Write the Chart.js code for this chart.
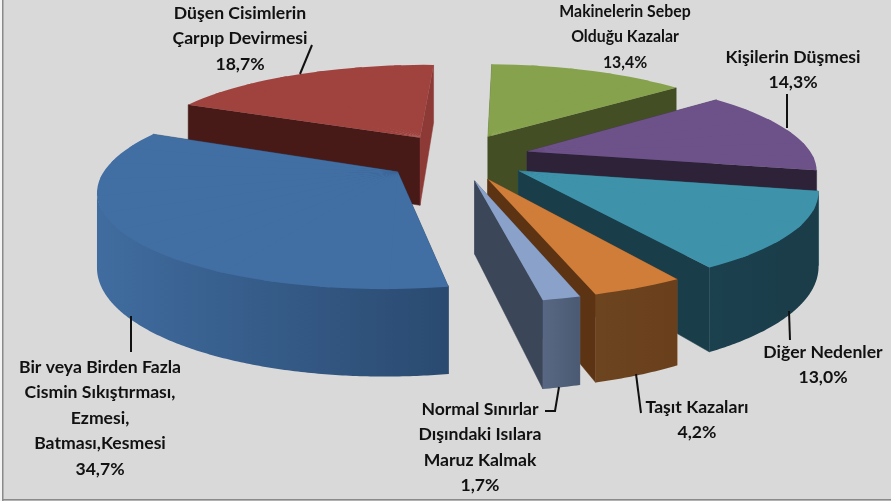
<!DOCTYPE html>
<html><head><meta charset="utf-8">
<style>html,body{margin:0;padding:0;background:#fff}canvas{display:block}</style>
<script src="https://cdn.jsdelivr.net/npm/chart.js@4"></script>
</head><body><canvas id="c" width="891" height="501"></canvas>
<script>
const categories = ["Makinelerin Sebep Olduğu Kazalar","Kişilerin Düşmesi","Diğer Nedenler","Taşıt Kazaları","Normal Sınırlar Dışındaki Isılara Maruz Kalmak","Bir veya Birden Fazla Cismin Sıkıştırması, Ezmesi, Batması,Kesmesi","Düşen Cisimlerin Çarpıp Devirmesi"];
const values = [13.4,14.3,13.0,4.2,1.7,34.7,18.7];
const labelLines = [["Makinelerin Sebep","Olduğu Kazalar"],["Kişilerin Düşmesi"],["Diğer Nedenler"],["Taşıt Kazaları"],["Normal Sınırlar","Dışındaki Isılara","Maruz Kalmak"],["Bir veya Birden Fazla","Cismin Sıkıştırması,","Ezmesi,","Batması,Kesmesi"],["Düşen Cisimlerin","Çarpıp Devirmesi"]];
const topColors = ["#86a24c","#6d5289","#3e93ab","#cf7d39","#8aa1c9","#416ea3","#a0433f"];
const wallStart = ["#5f7336","#4d3a61","#2c6879","#925828","#62728f","#2e4e74","#471a18"];
const wallEnd = ["#434e25","#2d2238","#1a3d4a","#5c3414","#3b4658","#2e4e74","#8d3a36"];
const rimLeft = ["#4c5c2b","#3e2f4e","#1b404e","#6d4420","#586884","#406c9f","#5a2624"];
const rimRight = ["#4c5c2b","#3e2f4e","#1b3c49","#6a401c","#4b5a72","#2a4a70","#5a2624"];
const labelCenter = [[625,11],[793,57],[823,352],[697,407],[480,409],[100,367],[240,13]];
const labelSqueeze = [.9,1,1,1,1,1,1];
const leaders = [[],[[787,94],[787,128]],[[789,311],[790,340]],[[636,374],[641,413]],[[559,387],[555,411],[545,411]],[[131,316],[131,352]],[[312,45],[300,74]]];

// camera model of the 3D pie
const CX=457, CY=157, R=286, TILT=.32, PERSP=.000602, EXPLODE=73, DEPTH=70;
const scaleAt = Y => 1/(1-PERSP*Y);
const proj = (X,Y) => { const s=scaleAt(Y); return {x:CX+X*s, y:CY+TILT*Y*s, d:DEPTH*s}; };

const pie3d = {
  id:'pie3d',
  beforeDraw(chart){
    const g=chart.ctx;
    g.save();
    g.fillStyle='#d9d9d9'; g.fillRect(0,0,891,501);
    g.fillStyle='#f4f4f4'; g.fillRect(0,0,2,501);
    g.fillStyle='#8a8a8a'; g.fillRect(2,0,1.5,501); g.fillRect(2,499,889,1.5);
    g.restore();
  },
  beforeDatasetsDraw(chart){
    const g=chart.ctx, arcs=chart.getDatasetMeta(0).data;
    const items=arcs.map((arc,i)=>{
      const a=arc.startAngle+Math.PI/2, b=arc.endAngle+Math.PI/2, m=(a+b)/2;
      const ax=EXPLODE*Math.sin(m), ay=-EXPLODE*Math.cos(m);
      const pt=t=>proj(ax+R*Math.sin(t), ay-R*Math.cos(t));
      return {arc,i,a,b,m,apex:proj(ax,ay),pt};
    }).sort((p,q)=>(-Math.cos(p.m))-(-Math.cos(q.m)));
    for(const it of items){
      const {arc,i,a,b,apex,pt}=it, A=pt(a), B=pt(b);
      const wall=(P,col)=>{
        g.fillStyle=col; g.strokeStyle=col; g.lineWidth=.5; g.beginPath();
        g.moveTo(apex.x,apex.y); g.lineTo(P.x,P.y); g.lineTo(P.x,P.y+P.d); g.lineTo(apex.x,apex.y+apex.d);
        g.closePath(); g.fill(); g.stroke();
      };
      wall(A,wallStart[i]); wall(B,wallEnd[i]);
      // outer rim: only the part that faces the viewer
      const n=Math.ceil((b-a)/.01), run=[];
      for(let k=0;k<=n;k++){
        const t=a+(b-a)*k/n, p=pt(t), nx=pt(t+.001);
        if(nx.x<p.x) run.push(p);
      }
      if(run.length>1){
        const xs=run.map(p=>p.x), x0=Math.min(...xs), x1=Math.max(...xs);
        const gr=g.createLinearGradient(x0,0,x1,0);
        gr.addColorStop(0,rimLeft[i]); gr.addColorStop(1,rimRight[i]);
        g.fillStyle=gr; g.beginPath();
        run.forEach((p,k)=>k?g.lineTo(p.x,p.y-1.5):g.moveTo(p.x,p.y-1.5));
        run.slice().reverse().forEach(p=>g.lineTo(p.x,p.y+p.d));
        g.closePath(); g.fill();
      }
      // top face: the library's own arc element, cut in narrow sectors, each mapped by an affine fit of the camera
      const parts=Math.ceil((b-a)/(Math.PI/18));
      for(let k=0;k<parts;k++){
        const a1=a+(b-a)*k/parts;
        const b1=k===parts-1? b : a+(b-a)*(k+1)/parts+.03;
        const P=pt(a1), Q=pt(b1), r=arc.outerRadius;
        const ux=r*Math.sin(a1), uy=-r*Math.cos(a1), vx=r*Math.sin(b1), vy=-r*Math.cos(b1);
        const det=ux*vy-vx*uy;
        const p1x=P.x-apex.x,p1y=P.y-apex.y,p2x=Q.x-apex.x,p2y=Q.y-apex.y;
        const m11=(p1x*vy-p2x*uy)/det, m12=(p2x*ux-p1x*vx)/det;
        const m21=(p1y*vy-p2y*uy)/det, m22=(p2y*ux-p1y*vx)/det;
        const piece=Object.create(arc);
        piece.startAngle=a1-Math.PI/2; piece.endAngle=b1-Math.PI/2; piece.circumference=b1-a1;
        piece.options={backgroundColor:topColors[i],borderColor:topColors[i],borderWidth:0,borderAlign:'center',
          borderDash:[],borderDashOffset:0,borderJoinStyle:'round',borderRadius:0,offset:0,spacing:0,angle:undefined,circular:true};
        g.save();
        g.transform(m11,m21,m12,m22,apex.x-m11*arc.x-m12*arc.y,apex.y-m21*arc.x-m22*arc.y);
        piece.draw(g);
        g.restore();
      }
    }
    return false;
  },
  afterDraw(chart){
    const g=chart.ctx;
    g.save();
    g.strokeStyle='#111'; g.lineWidth=2;
    leaders.forEach(l=>{ if(l.length){ g.beginPath(); l.forEach((p,k)=>k?g.lineTo(p[0],p[1]):g.moveTo(p[0],p[1])); g.stroke(); }});
    g.fillStyle='#111'; g.textAlign='center'; g.textBaseline='middle';
    g.font='bold 17.6px Lato';
    labelLines.forEach((ls,i)=>{
      const pct=values[i].toFixed(1).replace('.',',')+'%';
      [...ls,pct].forEach((t,k)=>g.fillText(t,labelCenter[i][0],labelCenter[i][1]+k*25.6,g.measureText(t).width*labelSqueeze[i]));
    });
    g.restore();
  }
};

new Chart(document.getElementById('c'),{
  type:'pie',
  data:{labels:categories,datasets:[{data:values,backgroundColor:topColors,borderWidth:0}]},
  options:{responsive:false,animation:false,rotation:2,layout:{padding:0},
    plugins:{legend:{display:false},tooltip:{enabled:false}}},
  plugins:[pie3d]
});
</script></body></html>
